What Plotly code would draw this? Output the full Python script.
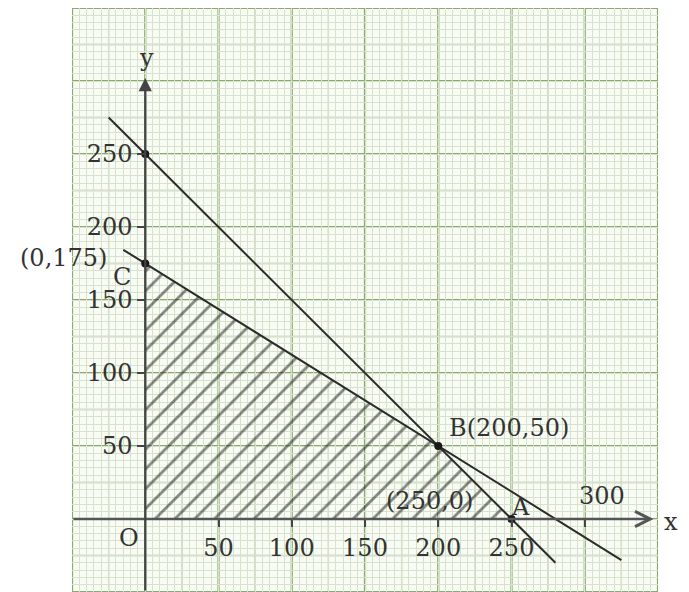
import numpy as np
import plotly.graph_objects as go

# ---- data ----
x_range = [-50, 350]
y_range = [-50, 350]

# constraint lines (endpoints as drawn)
line1_x = [-25, 280]      # x + y = 250
line1_y = [275, -30]
line2_x = [-15, 325]      # through C(0,175) and B(200,50)
line2_y = [184.4, -28.1]

# feasible (hatched) region O, A, B, C
region_x = [0, 250, 200, 0]
region_y = [0, 0, 50, 175]

# marked points
point_x = [0, 0, 200, 250]
point_y = [250, 175, 50, 0]

# tick labels
x_tickvals = [50, 100, 150, 200, 250, 300]
x_ticktext = ["50", "100", "150", "200", "250", ""]
y_tickvals = [50, 100, 150, 200, 250]
y_ticktext = ["50", "100", "150", "200", "250"]

FONT = "DejaVu Serif"
TXT = "#333333"
MAJOR = "#88aa6c"
MEDIUM = "#adbca0"
MINOR = "#d6e2cb"

fig = go.Figure()

fig.add_trace(go.Scatter(
    x=region_x, y=region_y, fill="toself", mode="none",
    fillcolor="rgba(0,0,0,0)",
    fillpattern=dict(shape="/", size=14, solidity=0.2, fgcolor="#111111"),
    hoverinfo="skip", showlegend=False))

fig.add_trace(go.Scatter(x=line1_x, y=line1_y, mode="lines",
                         line=dict(color="#2b2b2b", width=2), showlegend=False))
fig.add_trace(go.Scatter(x=line2_x, y=line2_y, mode="lines",
                         line=dict(color="#2b2b2b", width=2), showlegend=False))
fig.add_trace(go.Scatter(x=point_x, y=point_y, mode="markers",
                         marker=dict(color="#1a1a1a", size=8), showlegend=False))

# graph-paper medium and major lines
shapes = []
for v in np.arange(x_range[0], x_range[1] + 1, 25):
    major = (v % 50 == 0)
    col = MAJOR if major else MEDIUM
    w = 2.2 if major else 1.3
    shapes.append(dict(type="line", xref="x", yref="paper", x0=v, x1=v, y0=0, y1=1,
                       line=dict(color=col, width=w), layer="between"))
for v in np.arange(y_range[0], y_range[1] + 1, 25):
    major = (v % 50 == 0)
    col = MAJOR if major else MEDIUM
    w = 2.2 if major else 1.3
    shapes.append(dict(type="line", xref="paper", yref="y", y0=v, y1=v, x0=0, x1=1,
                       line=dict(color=col, width=w), layer="between"))

def xp(v):
    return (v - x_range[0]) / (x_range[1] - x_range[0])

def yp(v):
    return (v - y_range[0]) / (y_range[1] - y_range[0])

ann = []
# axes with arrows
ann.append(dict(x=347, y=0, ax=x_range[0], ay=0, xref="x", yref="y", axref="x", ayref="y",
                text="", showarrow=True, arrowhead=5, arrowsize=1.2, arrowwidth=2.5,
                arrowcolor="#555555"))
ann.append(dict(x=0, y=302, ax=0, ay=y_range[0], xref="x", yref="y", axref="x", ayref="y",
                text="", showarrow=True, arrowhead=2, arrowsize=1.2, arrowwidth=2.2,
                arrowcolor="#444444"))

def label(text, x, y, xanchor="center", xref="x", yref="y"):
    ann.append(dict(x=x, y=y, xref=xref, yref=yref, text=text, showarrow=False,
                    xanchor=xanchor, yanchor="middle",
                    font=dict(family=FONT, size=24, color=TXT)))

label("y", 1, 316)
label("x", xp(359), yp(-2), xref="paper", yref="paper")
label("(0,175)", -25, 179, xanchor="right")
label("C", -16, 166)
label("O", -11, -13)
label("B(200,50)", 206, 62, xanchor="left")
label("(250,0)", 163, 12, xanchor="left")
label("A", 256, 8)
label("300", 312, 16)

axis_font = dict(family=FONT, size=24, color=TXT)
fig.update_layout(
    width=681, height=584,
    margin=dict(l=64, r=31, t=0, b=0),
    paper_bgcolor="white", plot_bgcolor="#f8fcf4",
    showlegend=False,
    shapes=shapes, annotations=ann,
    xaxis=dict(range=x_range, anchor="free", position=yp(0),
               tickmode="array", tickvals=x_tickvals, ticktext=x_ticktext,
               showgrid=False, zeroline=False, showline=False,
               ticks="outside", ticklen=7, tickwidth=1.5, tickcolor="#444",
               tickfont=axis_font,
               minor=dict(tickmode="linear", tick0=0, dtick=5, showgrid=True,
                          gridcolor=MINOR, gridwidth=1, ticks="")),
    yaxis=dict(range=y_range, anchor="free", position=xp(0),
               tickmode="array", tickvals=y_tickvals, ticktext=y_ticktext,
               showgrid=False, zeroline=False, showline=False,
               ticks="outside", ticklen=8, tickwidth=1.5, tickcolor="#444",
               tickfont=axis_font,
               minor=dict(tickmode="linear", tick0=0, dtick=5, showgrid=True,
                          gridcolor=MINOR, gridwidth=1, ticks="")),
)

fig.write_html("out.html")
